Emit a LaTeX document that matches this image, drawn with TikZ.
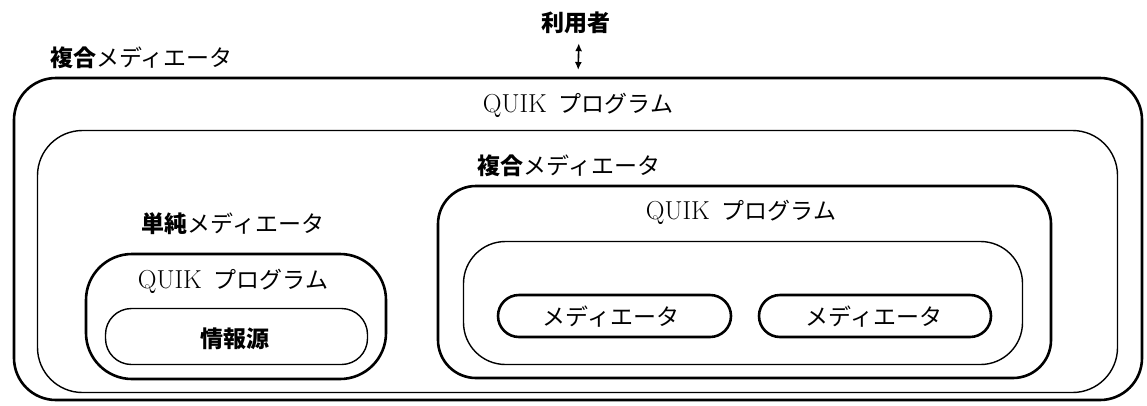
\documentclass[tikz,border=0pt]{standalone}
\usepackage{fontspec}
\newfontfamily\cjk{Noto Sans CJK JP}
\usetikzlibrary{arrows.meta}
\tikzset{
  thickbox/.style={draw, line width=2.6pt, rectangle, inner sep=0pt},
  thinbox/.style={draw, line width=1.4pt, rectangle, inner sep=0pt},
  lbl/.style={inner sep=0pt, font=\fontsize{23}{27}\selectfont},
  dbl/.style={line width=1.6pt, {Latex[length=8pt,width=7pt]}-{Latex[length=8pt,width=7pt]}}
}
\newcommand{\qprog}{{\fontsize{26}{30}\selectfont QUIK}\hspace{12pt}{\cjk プログラム}}
\begin{document}
\begin{tikzpicture}[x=1pt,y=-1pt]
\useasboundingbox (0,0) rectangle (1147,405);
% containers
\node[thickbox, minimum width=1128pt, minimum height=322pt, rounded corners=42pt] (outer) at (578,239) {};
\node[thinbox, minimum width=1080pt, minimum height=262pt, rounded corners=45pt] (prog1) at (577.5,261.5) {};
\node[thickbox, minimum width=613pt, minimum height=192pt, rounded corners=38pt] (complex) at (744.5,282) {};
\node[thinbox, minimum width=559pt, minimum height=123pt, rounded corners=42pt] (prog2) at (743,303) {};
\node[thickbox, minimum width=233pt, minimum height=42pt, rounded corners=21pt] (med1) at (614.5,316) {};
\node[thickbox, minimum width=232pt, minimum height=42pt, rounded corners=21pt] (med2) at (875,316) {};
\node[thickbox, minimum width=300pt, minimum height=125pt, rounded corners=46pt] (simple) at (236,316.5) {};
\node[thinbox, minimum width=262pt, minimum height=56pt, rounded corners=26pt] (src) at (236.5,336.5) {};
% labels
\node[lbl] (user) at (576,23) {\cjk\bfseries 利用者};
\node[lbl, anchor=west] (louter) at (50,58) {\cjk{\bfseries 複合}メディエータ};
\node[lbl] (lprog1) at (578,105) {\qprog};
\node[lbl] (lcomplex) at (569,166) {\cjk{\bfseries 複合}メディエータ};
\node[lbl] (lprog2) at (741,212) {\qprog};
\node[lbl] (lsimple) at (233,224) {\cjk{\bfseries 単純}メディエータ};
\node[lbl] (lprog3) at (233,281) {\qprog};
\node[lbl] (lsrc) at (235,339) {\cjk\bfseries 情報源};
\node[lbl] (lmed1) at (611,317) {\cjk メディエータ};
\node[lbl] (lmed2) at (874,317) {\cjk メディエータ};
% connector
\draw[dbl, shorten <=9pt, shorten >=7pt] (user.south -| 579,0) -- (579,77 -| outer.north);
\end{tikzpicture}
\end{document}
